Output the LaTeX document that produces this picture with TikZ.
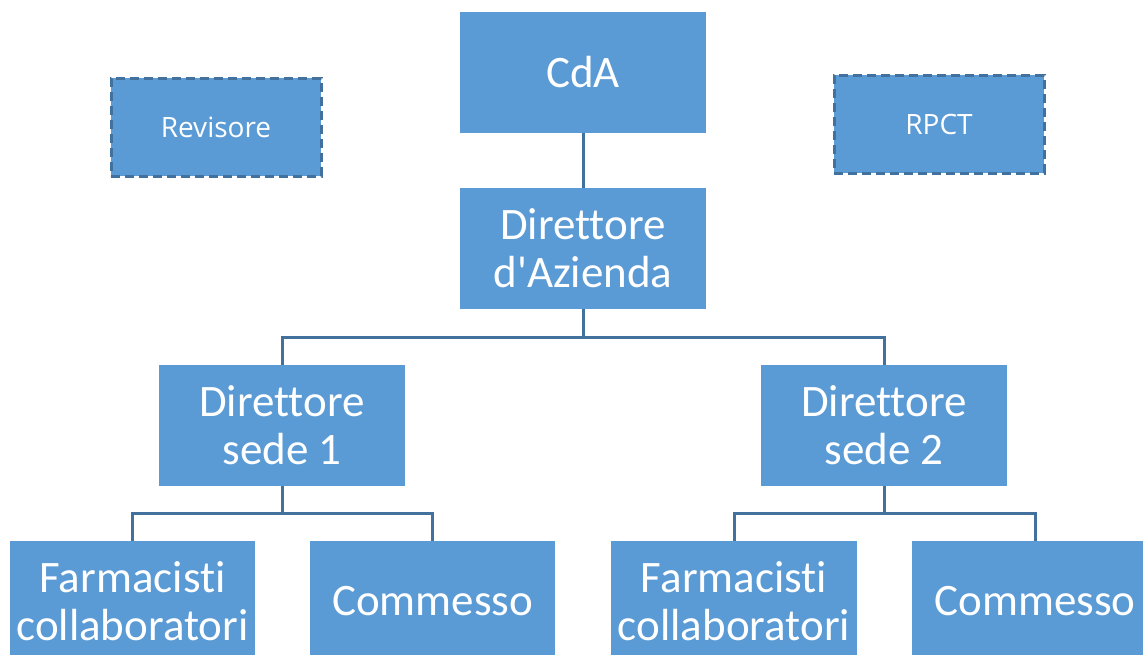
\documentclass[tikz,border=0pt]{standalone}
\usepackage{fontspec}
\setmainfont{Carlito}[Ligatures=NoCommon]
\newfontfamily\smallfont{Open Sans}
\definecolor{boxblue}{HTML}{5B9BD5}
\definecolor{lineblue}{HTML}{41719C}
\tikzset{
  unit/.style={fill=boxblue, text=white, align=center, minimum width=246pt, minimum height=121pt, inner sep=0pt, font=\fontsize{45}{48}\selectfont},
  staff/.style={fill=boxblue, draw=lineblue, line width=3pt, dash pattern=on 9pt off 5pt, text=white, minimum width=210pt, minimum height=98pt, inner sep=0pt, font=\smallfont\fontsize{28}{32}\selectfont},
  link/.style={draw=lineblue, line width=3pt}
}
\begin{document}
\begin{tikzpicture}[x=1pt,y=-1pt]
\clip (0,0) rectangle (1143,654);
\useasboundingbox (0,0) rectangle (1143,654);

\node[unit] (cda) at (583,72.5) {CdA};
\node[unit] (dir) at (583,248.5) {Direttore\\d\textquotesingle Azienda};
\node[staff] (rev) at (216,127) {Revisore};
\node[staff] (rpct) at (939,124) {RPCT};

\node[unit] (sede1) at (282,425.5) {Direttore\\sede 1};
\node[unit] (sede2) at (884,425.5) {Direttore\\sede 2};

\node[unit, minimum width=245pt] (farm1) at (132.5,601.5) {Farmacisti\\collaboratori};
\node[unit, minimum width=245pt] (comm1) at (432.5,601.5) {Commesso};
\node[unit] (farm2) at (734,601.5) {Farmacisti\\collaboratori};
\node[unit] (comm2) at (1035,601.5) {Commesso};

\coordinate (j0) at (583,337);
\coordinate (j1) at (282,513);
\coordinate (j2) at (884,513);

\draw[link] (cda) -- (dir);
\draw[link] (dir) -- (j0);
\draw[link] (sede1.north) |- (j0) -| (sede2.north);
\draw[link] (sede1) -- (j1);
\draw[link] (farm1.north) |- (j1) -| (comm1.north);
\draw[link] (sede2) -- (j2);
\draw[link] (farm2.north) |- (j2) -| (comm2.north);

\end{tikzpicture}
\end{document}
